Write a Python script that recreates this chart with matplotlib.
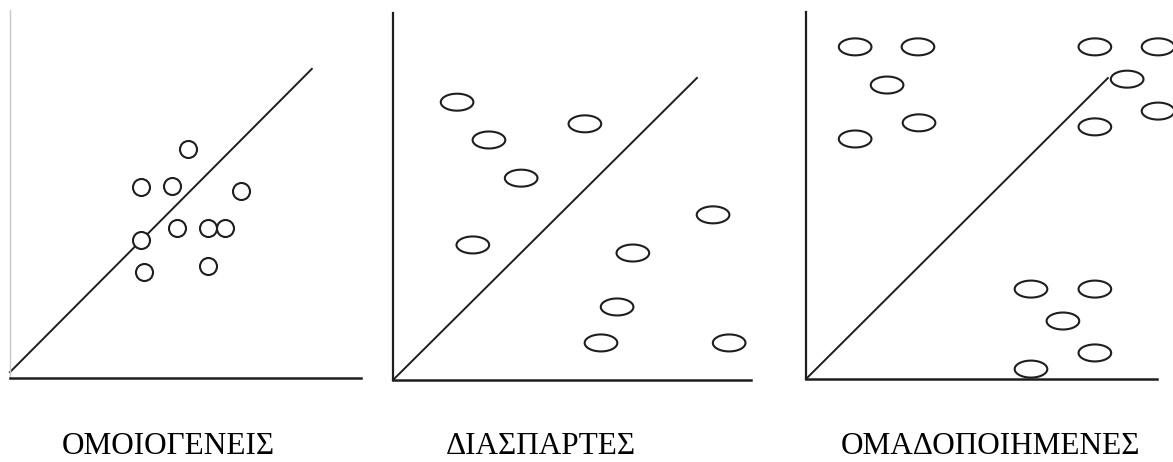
import numpy as np
import matplotlib
matplotlib.use("Agg")
import matplotlib.pyplot as plt
from matplotlib.path import Path

# ---- data (each panel in 0-100 units, origin at the axes corner) ----
titles = ["ΟΜΟΙΟΓΕΝΕΙΣ", "ΔΙΑΣΠΑΡΤΕΣ", "ΟΜΑΔΟΠΟΙΗΜΕΝΕΣ"]

p1_x = [50.7, 37.3, 46.2, 65.8, 47.6, 56.4, 61.3, 37.3, 38.2, 56.4]
p1_y = [62.2, 51.9, 52.2, 50.8, 40.8, 40.8, 40.8, 37.5, 28.8, 30.4]
p1_line_x = [0.0, 86.0]
p1_line_y = [1.6, 84.0]

p2_x = [17.9, 53.6, 26.8, 35.8, 89.4, 22.3, 67.0, 62.6, 58.1, 93.9]
p2_y = [75.7, 69.8, 65.4, 55.0, 45.0, 36.8, 34.6, 19.9, 10.1, 10.1]
p2_line_x = [0.0, 84.9]
p2_line_y = [0.0, 82.3]

p3_x = [14.0, 31.9, 82.3, 100.3, 23.1, 91.5, 32.2, 14.0, 82.3, 100.3,
        64.1, 82.3, 73.2, 82.3, 64.1]
p3_y = [90.5, 90.5, 90.5, 90.5, 80.1, 81.7, 69.8, 65.4, 68.7, 73.0,
        24.5, 24.5, 15.8, 7.1, 2.7]
p3_line_x = [0.0, 86.0]
p3_line_y = [0.0, 82.0]

W, H = 1173, 462
fig = plt.figure(figsize=(W / 100, H / 100), dpi=100)
fig.patch.set_facecolor("white")

ink = "#1e1e1e"

# ellipse marker path
t = np.linspace(0, 2 * np.pi, 80)
ell_path = Path(np.column_stack([np.cos(t), 0.52 * np.sin(t)]), closed=True)

# panel boxes in pixels: (left, top, width, height)
boxes = [(10, 10, 351, 368), (393, 13, 358, 367), (806, 12, 351, 367)]


def make_ax(box, left_color):
    l, tp, w, h = box
    ax = fig.add_axes([l / W, (H - tp - h) / H, w / W, h / H])
    ax.set_xlim(0, 100)
    ax.set_ylim(0, 100)
    for s in ("top", "right"):
        ax.spines[s].set_visible(False)
    ax.spines["bottom"].set_color(ink)
    ax.spines["bottom"].set_linewidth(1.8)
    ax.spines["left"].set_color(left_color)
    ax.spines["left"].set_linewidth(1.6 if left_color == ink else 1.0)
    ax.set_xticks([])
    ax.set_yticks([])
    ax.patch.set_alpha(0)
    return ax


ax1 = make_ax(boxes[0], "#c8c8c8")
ax1.plot(p1_line_x, p1_line_y, color=ink, lw=1.4, clip_on=False)
ax1.scatter(p1_x, p1_y, s=150, marker="o", facecolors="white",
            edgecolors=ink, linewidths=1.5, zorder=3, clip_on=False)

ax2 = make_ax(boxes[1], ink)
ax2.plot(p2_line_x, p2_line_y, color=ink, lw=1.4, clip_on=False)
ax2.scatter(p2_x, p2_y, s=23.5 ** 2, marker=ell_path, facecolors="none",
            edgecolors=ink, linewidths=1.5, zorder=3, clip_on=False)

ax3 = make_ax(boxes[2], ink)
ax3.plot(p3_line_x, p3_line_y, color=ink, lw=1.4, clip_on=False)
ax3.scatter(p3_x, p3_y, s=23.5 ** 2, marker=ell_path, facecolors="none",
            edgecolors=ink, linewidths=1.5, zorder=3, clip_on=False)

label_cx = [168, 541, 991]
for cx, txt in zip(label_cx, titles):
    fig.text(cx / W, 8 / H, txt, ha="center", va="baseline",
             fontsize=22.5, family=["Liberation Serif", "DejaVu Serif"],
             color="black")

fig.savefig("out.png", dpi=100, facecolor="white")
